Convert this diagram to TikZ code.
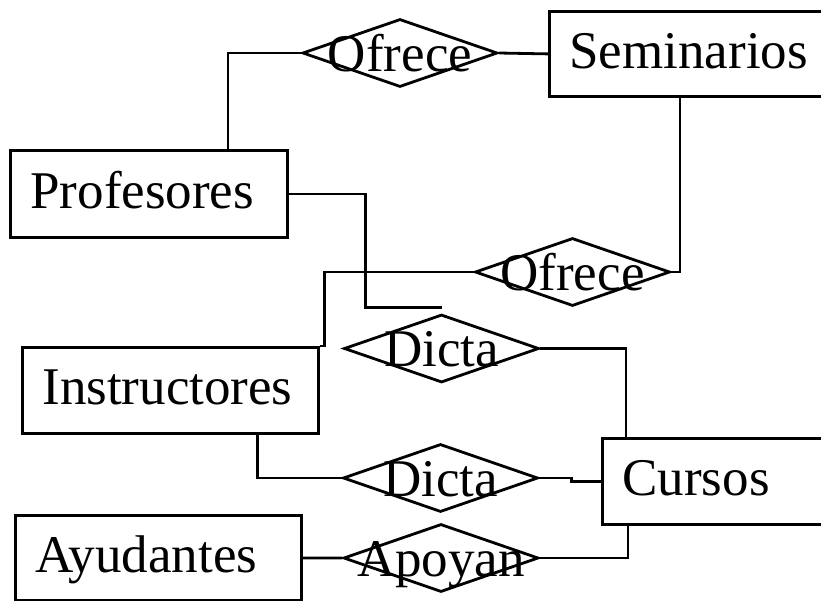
\documentclass[tikz,border=0pt]{standalone}
\usepackage{fontspec}
\setmainfont{Liberation Serif}
\usetikzlibrary{shapes.geometric}
\usetikzlibrary{calc}
\begin{document}
\begin{tikzpicture}[x=1pt,y=-1pt,line width=2.8pt,
	entidad/.style={draw,rectangle,anchor=north west,inner xsep=20pt,inner ysep=0pt,align=left,font=\fontsize{53}{56}\selectfont,text height=36pt,text depth=7pt},
	relacion/.style={draw,diamond,inner sep=0pt,minimum width=195pt,minimum height=68pt},
	rtext/.style={font=\fontsize{53}{56}\selectfont,text height=36pt,text depth=0pt,inner sep=0pt}]
	\useasboundingbox (0,0) rectangle (821,600);

	\node[entidad,text width=300pt,minimum height=85pt] (sem) at (548,10) {Seminarios};
	\node[entidad,text width=237pt,minimum height=87pt] (prof) at (9,149) {Profesores};
	\node[entidad,text width=256pt,minimum height=86pt] (instr) at (21,346) {Instructores};
	\node[entidad,text width=300pt,minimum height=86pt] (cursos) at (601,437) {Cursos};
	\node[entidad,text width=246pt,minimum height=85pt] (ayud) at (14,514) {Ayudantes};

	\node[relacion,label={[rtext]center:Ofrece}] (ofrece1) at (400,53) {};
	\node[relacion,label={[rtext]center:Ofrece}] (ofrece2) at (572.5,272) {};
	\node[relacion,label={[rtext]center:Dicta}] (dicta1) at (441.5,348.5) {};
	\node[relacion,label={[rtext]center:Dicta}] (dicta2) at (440.5,478) {};
	\node[relacion,label={[rtext]center:Apoyan}] (apoyan) at (441,558) {};

	\draw (ofrece1.west) -| ([xshift=79pt]prof.north);
	\draw (ofrece1.east) -- (sem.west);
	\draw (prof.east) -- ++(77,0) |- ([yshift=6pt]dicta1.north);
	\draw (ofrece2.east) -| ([xshift=132pt]sem.south west);
	\draw (ofrece2.west) -| ([xshift=5pt]instr.north east) -- (instr.north east);
	\draw (dicta1.east) -| ([xshift=25pt]cursos.north west);
	\draw ([xshift=87pt]instr.south) |- (dicta2.west);
	\draw (dicta2.east) -- ++(32,0) |- (cursos.west);
	\draw (ayud.east) -- (apoyan.west);
	\draw (apoyan.east) -| ([xshift=27pt]cursos.south west);
\end{tikzpicture}
\end{document}
